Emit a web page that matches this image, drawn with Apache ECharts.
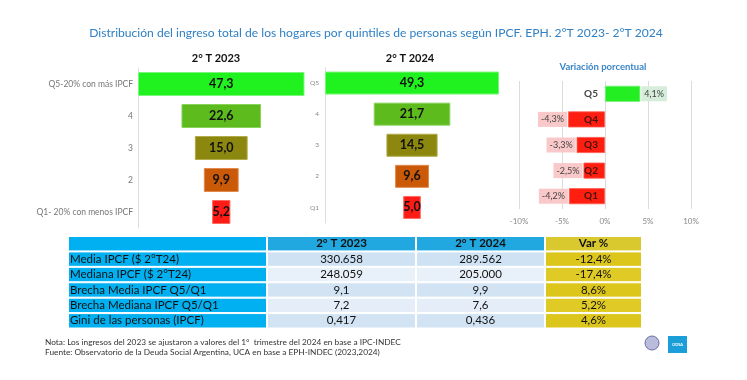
<!DOCTYPE html>
<html>
<head>
<meta charset="utf-8">
<script src="https://cdn.jsdelivr.net/npm/echarts@6/dist/echarts.min.js"></script>
<style>
html,body{margin:0;padding:0;background:#fff;}
#c{width:747px;height:380px;}
</style>
</head>
<body>
<div id="c"></div>
<script>
// ---- data ----
var quintileLabels2023 = ['Q5-20% con más IPCF', '4', '3', '2', 'Q1- 20% con menos IPCF'];
var quintileLabels2024 = ['Q5', '4', '3', '2', 'Q1'];
var share2023 = [47.3, 22.6, 15.0, 9.9, 5.2];
var share2024 = [49.3, 21.7, 14.5, 9.6, 5.0];
var varCategories = ['Q5', 'Q4', 'Q3', 'Q2', 'Q1'];
var variation = [4.1, -4.3, -3.3, -2.5, -4.2];
var varTicks = ['-10%', '-5%', '0%', '5%', '10%'];

var tableHeaders = ['', '2° T 2023', '2° T 2024', 'Var %'];
var tableRowLabels = ['Media IPCF ($ 2°T24)', 'Mediana IPCF ($ 2°T24)', 'Brecha Media IPCF Q5/Q1', 'Brecha Mediana IPCF Q5/Q1', 'Gini de las personas (IPCF)'];
var table2023 = ['330.658', '248.059', '9,1', '7,2', '0,417'];
var table2024 = ['289.562', '205.000', '9,9', '7,6', '0,436'];
var tableVar = ['-12,4%', '-17,4%', '8,6%', '5,2%', '4,6%'];

// ---- styles ----
var FONT = "Lato, 'Open Sans', sans-serif";
var funnelColors = ['#1FF21F', '#5DBB1E', '#8C880F', '#CA5908', '#FF1B16'];
var funnelBorders = ['#7CF57C', '#8AD35A', '#B0AC4A', '#E08A50', '#FF6A60'];

function fmt(v) { return v.toFixed(1).replace('.', ','); }

function funnelSeries(values, gridIdx, bw) {
  var mx = Math.max.apply(null, values);
  return [
    {
      type: 'bar', xAxisIndex: gridIdx, yAxisIndex: gridIdx, stack: 's' + gridIdx, silent: true,
      barWidth: bw,
      itemStyle: { color: 'rgba(0,0,0,0)' },
      data: values.map(function (v) { return (mx - v) / 2; })
    },
    {
      type: 'bar', xAxisIndex: gridIdx, yAxisIndex: gridIdx, stack: 's' + gridIdx,
      barWidth: bw,
      data: values.map(function (v, i) {
        return { value: v, itemStyle: { color: funnelColors[i], borderColor: funnelBorders[i], borderWidth: 1 } };
      }),
      label: {
        show: true, position: 'inside', fontFamily: FONT, fontWeight: 'bold', fontSize: 12.5, color: '#111',
        formatter: function (p) { return fmt(p.value); }
      }
    }
  ];
}

// table columns
var rowKeys = ['h', 'r1', 'r2', 'r3', 'r4', 'r5'];
var tableCols = [
  { left: 68, width: 199, header: tableHeaders[0], cells: tableRowLabels, hColor: '#00B0F0', colors: ['#00B0F0', '#00B0F0', '#00B0F0', '#00B0F0', '#00B0F0'], pos: 'insideLeft' },
  { left: 267, width: 149, header: tableHeaders[1], cells: table2023, hColor: '#22A8E0', colors: ['#CFE2F3', '#E8F0F9', '#D2E4F3', '#E5EEF8', '#D2E4F3'], pos: 'inside' },
  { left: 416, width: 129, header: tableHeaders[2], cells: table2024, hColor: '#22A8E0', colors: ['#CFE2F3', '#E8F0F9', '#D2E4F3', '#E5EEF8', '#D2E4F3'], pos: 'inside' },
  { left: 545, width: 97, header: tableHeaders[3], cells: tableVar, hColor: '#D9C92E', colors: ['#DCC61C', '#E0CB26', '#DCC61C', '#E0CB26', '#DCC61C'], pos: 'inside' }
];

var grids = [
  { left: 138, top: 68, width: 176, height: 160 },
  { left: 325, top: 67.5, width: 176.5, height: 155.5 },
  { left: 519, top: 81, width: 172, height: 128 }
];
var xAxes = [
  { gridIndex: 0, type: 'value', min: 0, max: 50, show: false },
  { gridIndex: 1, type: 'value', min: 0, max: 50, show: false },
  {
    gridIndex: 2, type: 'value', min: -10, max: 10, interval: 5,
    axisLine: { show: false }, axisTick: { show: false },
    splitLine: { show: true, lineStyle: { color: '#dcdcdc', width: 1 } },
    axisLabel: { color: '#888', fontFamily: FONT, fontSize: 8, margin: 8,
      formatter: function (v) { return varTicks[(v + 10) / 5]; } }
  }
];
var yAxes = [
  {
    gridIndex: 0, type: 'category', data: quintileLabels2023, inverse: true,
    axisLine: { show: true, lineStyle: { color: '#dddddd' } }, axisTick: { show: false },
    axisLabel: { color: '#777', fontFamily: FONT, fontSize: 8.5, margin: 5 }
  },
  {
    gridIndex: 1, type: 'category', data: quintileLabels2024, inverse: true,
    axisLine: { show: true, lineStyle: { color: '#dddddd' } }, axisTick: { show: false },
    axisLabel: { color: '#888', fontFamily: FONT, fontSize: 6.5, margin: 6 }
  },
  {
    gridIndex: 2, type: 'category', data: varCategories, inverse: true,
    axisLine: { show: false }, axisTick: { show: false }, axisLabel: { show: false }
  }
];

var series = [].concat(funnelSeries(share2023, 0, 24), funnelSeries(share2024, 1, 23));

series.push({
  type: 'bar', xAxisIndex: 2, yAxisIndex: 2, barWidth: 16,
  data: variation.map(function (v) {
    var pos = v >= 0;
    return {
      value: v,
      itemStyle: { color: pos ? '#22EE22' : '#FF1E10', borderColor: pos ? '#77F077' : '#FF5A50', borderWidth: 0.8 },
      label: {
        show: true, position: pos ? 'right' : 'left', distance: 1,
        backgroundColor: pos ? '#D5EDDA' : '#F9C8C8',
        padding: [3, 3, 3, 3], color: '#444', fontFamily: FONT, fontSize: 9,
        formatter: function () { return fmt(v) + '%'; }
      }
    };
  })
});
// category names placed at the zero line
series.push({
  type: 'scatter', xAxisIndex: 2, yAxisIndex: 2, symbolSize: 0, z: 10, silent: true,
  data: varCategories.map(function (c) { return [0, c]; }),
  label: {
    show: true, position: 'left', distance: 7, color: '#111', fontFamily: FONT, fontSize: 10, fontWeight: 'bold',
    formatter: function (p) { return p.value[1]; }
  }
});

tableCols.forEach(function (col, ci) {
  var gi = 3 + ci;
  grids.push({ left: col.left, width: col.width, top: 236, height: 92.5 });
  xAxes.push({ gridIndex: gi, type: 'value', min: 0, max: 1, show: false });
  yAxes.push({ gridIndex: gi, type: 'category', data: rowKeys, inverse: true, show: false });
  var texts = [col.header].concat(col.cells);
  var colors = [col.hColor].concat(col.colors);
  series.push({
    type: 'bar', xAxisIndex: gi, yAxisIndex: gi, barWidth: '100%', silent: true,
    data: texts.map(function (t, i) {
      return {
        value: 1,
        itemStyle: { color: colors[i], borderColor: '#ffffff', borderWidth: 1 },
        label: { fontWeight: i === 0 ? 'bold' : 'normal' }
      };
    }),
    label: {
      show: true, position: col.pos, distance: 2, color: '#111', fontFamily: FONT, fontSize: 11.5,
      formatter: function (p) { return texts[p.dataIndex]; }
    }
  });
});

var chart = echarts.init(document.getElementById('c'), null, { renderer: 'canvas' });
chart.setOption({
  backgroundColor: '#ffffff',
  animation: false,
  grid: grids,
  xAxis: xAxes,
  yAxis: yAxes,
  series: series,
  graphic: [
    { type: 'text', x: 376, y: 33, style: { text: 'Distribución del ingreso total de los hogares por quintiles de personas según IPCF. EPH. 2°T 2023- 2°T 2024', fill: '#2F80C4', font: '12.1px ' + FONT, textAlign: 'center', textVerticalAlign: 'middle' } },
    { type: 'text', x: 216, y: 58, style: { text: '2° T 2023', fill: '#111', font: 'bold 11px ' + FONT, textAlign: 'center', textVerticalAlign: 'middle' } },
    { type: 'text', x: 410, y: 58, style: { text: '2° T 2024', fill: '#111', font: 'bold 11px ' + FONT, textAlign: 'center', textVerticalAlign: 'middle' } },
    { type: 'text', x: 603, y: 67, style: { text: 'Variación porcentual', fill: '#3A86C8', font: 'bold 9.5px ' + FONT, textAlign: 'center', textVerticalAlign: 'middle' } },
    { type: 'text', x: 45, y: 342, style: { text: 'Nota: Los ingresos del 2023 se ajustaron a valores del 1°  trimestre del 2024 en base a IPC-INDEC', fill: '#333', font: '8.3px ' + FONT, textVerticalAlign: 'middle' } },
    { type: 'text', x: 45, y: 352, style: { text: 'Fuente: Observatorio de la Deuda Social Argentina, UCA en base a EPH-INDEC (2023,2024)', fill: '#333', font: '8.3px ' + FONT, textVerticalAlign: 'middle' } },
    { type: 'circle', shape: { cx: 652, cy: 343, r: 7 }, style: { fill: '#B9BCDA', stroke: '#6C70A8', lineWidth: 1 } },
    { type: 'rect', shape: { x: 668, y: 336, width: 19, height: 17 }, style: { fill: '#1C9FD8' } },
    { type: 'text', x: 677.5, y: 344.5, style: { text: 'ODSA', fill: '#fff', font: 'bold 4px ' + FONT, textAlign: 'center', textVerticalAlign: 'middle' } }
  ]
});
</script>
</body>
</html>
